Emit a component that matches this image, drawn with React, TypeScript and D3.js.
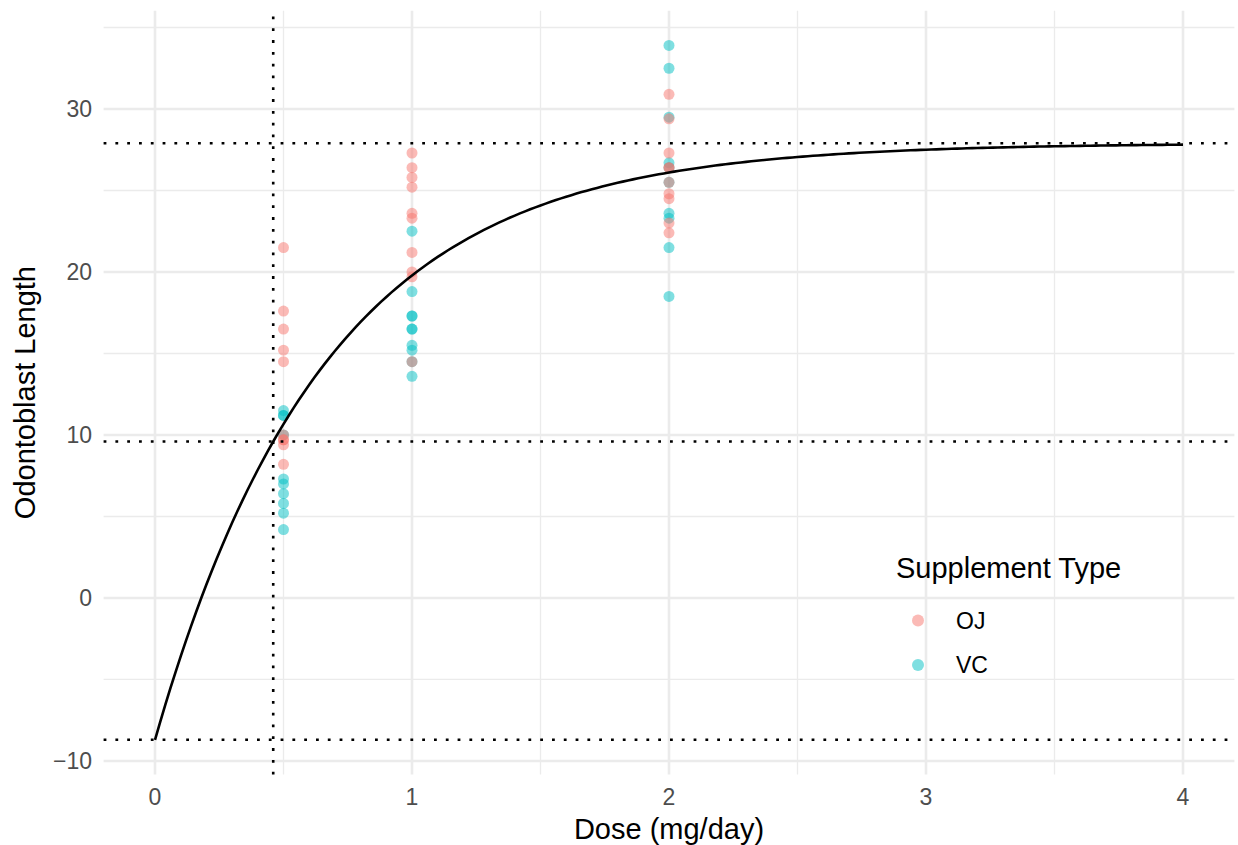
import React from 'react';
import * as d3 from 'd3';

// ToothGrowth data, read per group
const doses = [0.5, 1, 2];
const vcLengths = [
    [4.2, 11.5, 7.3, 5.8, 6.4, 10, 11.2, 11.2, 5.2, 7],
    [16.5, 16.5, 15.2, 17.3, 22.5, 17.3, 13.6, 14.5, 18.8, 15.5],
    [23.6, 18.5, 33.9, 25.5, 26.4, 32.5, 26.7, 21.5, 23.3, 29.5],
];
const ojLengths = [
    [15.2, 21.5, 17.6, 9.7, 14.5, 10, 8.2, 9.4, 16.5, 9.7],
    [19.7, 23.3, 23.6, 26.4, 20, 25.2, 25.8, 21.2, 14.5, 27.3],
    [25.5, 26.4, 22.4, 24.5, 24.8, 30.9, 26.4, 27.3, 29.4, 23],
];
const supplements = ['OJ', 'VC'];
const supplementColors = ['#F8766D', '#00BFC4'];

// fitted asymptotic model: y = asym + (r0 - asym) * exp(-k x)
const modelAsym = 27.9;
const modelR0 = -8.7;
const modelHalfDose = 0.46;

const xTicks = [0, 1, 2, 3, 4];
const xMinor = [0.5, 1.5, 2.5, 3.5];
const yTicks = [-10, 0, 10, 20, 30];
const yMinor = [-5, 5, 15, 25, 35];

const W = 1238, H = 845;
const font = '"Liberation Sans", Arial, sans-serif';

export default function App() {
    const x = d3.scaleLinear().domain([-0.2, 4.2]).range([103.6, 1234.4]);
    const y = d3.scaleLinear().domain([-10.83, 36.03]).range([774.5, 10.7]);

    const k = Math.LN2 / modelHalfDose;
    const model = (d: number) => modelAsym + (modelR0 - modelAsym) * Math.exp(-k * d);
    const curvePts = d3.range(0, 4.0001, 0.02).map(d => [d, model(d)] as [number, number]);
    const line = d3.line<[number, number]>().x(d => x(d[0])).y(d => y(d[1]));

    const points: { dose: number; len: number; supp: number }[] = [];
    vcLengths.forEach((g, i) => g.forEach(v => points.push({ dose: doses[i], len: v, supp: 1 })));
    ojLengths.forEach((g, i) => g.forEach(v => points.push({ dose: doses[i], len: v, supp: 0 })));

    const [x0, x1] = x.range();
    const [y0, y1] = y.range();
    const dotted = { stroke: '#000', strokeWidth: 2.6, strokeDasharray: '2.8 9', fill: 'none' };

    return (
        <svg width={W} height={H} style={{ position: 'absolute', left: 0, top: 0 }} fontFamily={font}>
            <rect width={W} height={H} fill="#fff" />
            {xMinor.map(t => <line key={'xm' + t} x1={x(t)} x2={x(t)} y1={y0} y2={y1} stroke="#EBEBEB" strokeWidth={1.3} />)}
            {yMinor.map(t => <line key={'ym' + t} x1={x0} x2={x1} y1={y(t)} y2={y(t)} stroke="#EBEBEB" strokeWidth={1.3} />)}
            {xTicks.map(t => <line key={'x' + t} x1={x(t)} x2={x(t)} y1={y0} y2={y1} stroke="#EBEBEB" strokeWidth={2.6} />)}
            {yTicks.map(t => <line key={'y' + t} x1={x0} x2={x1} y1={y(t)} y2={y(t)} stroke="#EBEBEB" strokeWidth={2.6} />)}

            {points.map((p, i) => (
                <circle key={i} cx={x(p.dose)} cy={y(p.len)} r={5.5} fill={supplementColors[p.supp]} fillOpacity={0.5} />
            ))}

            <path d={line(curvePts) || ''} fill="none" stroke="#000" strokeWidth={2.6} />

            {[modelAsym, (modelAsym + modelR0) / 2, modelR0].map((v, i) => (
                <line key={'h' + i} x1={x0} x2={x1} y1={y(v)} y2={y(v)} {...dotted} />
            ))}
            <line x1={x(modelHalfDose)} x2={x(modelHalfDose)} y1={y0} y2={y1} {...dotted} />

            {xTicks.map(t => (
                <text key={'xl' + t} x={x(t)} y={805} textAnchor="middle" fontSize={23} fill="#4D4D4D">{t}</text>
            ))}
            {yTicks.map(t => (
                <text key={'yl' + t} x={92} y={y(t)} dy="0.36em" textAnchor="end" fontSize={23} fill="#4D4D4D">
                    {t < 0 ? '\u2212' + Math.abs(t) : t}
                </text>
            ))}

            <text x={(x0 + x1) / 2} y={839} textAnchor="middle" fontSize={29} fill="#000">Dose (mg/day)</text>
            <text transform={`translate(35, ${(y0 + y1) / 2}) rotate(-90)`} textAnchor="middle" fontSize={29} fill="#000">Odontoblast Length</text>

            <text x={896} y={578} fontSize={29} fill="#000">Supplement Type</text>
            {supplements.map((s, i) => (
                <g key={s} transform={`translate(0, ${620.5 + i * 44.5})`}>
                    <circle cx={918} cy={0} r={6} fill={supplementColors[i]} fillOpacity={0.5} />
                    <text x={956} y={0} dy="0.36em" fontSize={23} fill="#000">{s}</text>
                </g>
            ))}
        </svg>
    );
}
